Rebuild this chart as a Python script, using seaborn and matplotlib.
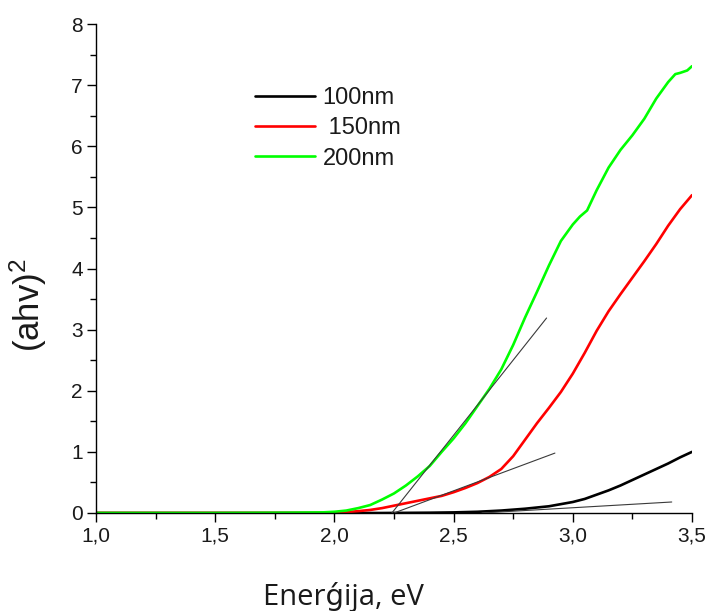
import numpy as np
import pandas as pd
import matplotlib
matplotlib.use("Agg")
import matplotlib.pyplot as plt
from matplotlib.ticker import MultipleLocator, FuncFormatter
import seaborn as sns

# ---- data ----
x_100 = [1.0, 2.2, 2.4, 2.5, 2.6, 2.7, 2.8, 2.9, 3.0, 3.05, 3.1, 3.15, 3.2, 3.25, 3.3, 3.35, 3.4, 3.45, 3.5]
y_100 = [0, 0, 0.005, 0.01, 0.02, 0.04, 0.07, 0.11, 0.18, 0.23, 0.30, 0.37, 0.45, 0.54, 0.63, 0.72, 0.81, 0.91, 1.0]

x_150 = [1.0, 1.9, 2.0, 2.05, 2.1, 2.15, 2.2, 2.25, 2.3, 2.35, 2.4, 2.45, 2.5, 2.55, 2.6, 2.65, 2.7,
         2.75, 2.8, 2.85, 2.9, 2.95, 3.0, 3.05, 3.1, 3.15, 3.2, 3.25, 3.3, 3.35, 3.4, 3.45, 3.5]
y_150 = [0, 0, 0.005, 0.015, 0.03, 0.05, 0.08, 0.12, 0.16, 0.20, 0.24, 0.28, 0.34, 0.41, 0.49, 0.59, 0.72,
         0.93, 1.20, 1.47, 1.72, 1.98, 2.28, 2.62, 2.98, 3.30, 3.58, 3.85, 4.12, 4.40, 4.70, 4.97, 5.20]

x_200 = [1.0, 1.5, 1.8, 1.95, 2.0, 2.05, 2.1, 2.15, 2.2, 2.25, 2.3, 2.35, 2.4, 2.45, 2.5, 2.55, 2.6, 2.65,
         2.7, 2.75, 2.8, 2.85, 2.9, 2.95, 3.0, 3.03, 3.06, 3.1, 3.15, 3.2, 3.25, 3.3, 3.35, 3.4, 3.43,
         3.45, 3.48, 3.5]
y_200 = [0, 0, 0.005, 0.01, 0.02, 0.04, 0.08, 0.13, 0.22, 0.32, 0.45, 0.60, 0.77, 1.00, 1.22, 1.47, 1.75, 2.03,
         2.35, 2.75, 3.20, 3.62, 4.05, 4.45, 4.72, 4.85, 4.95, 5.28, 5.65, 5.94, 6.18, 6.45, 6.78, 7.05, 7.18,
         7.20, 7.24, 7.31]

series_labels = ["100nm", " 150nm", "200nm"]
series_colors = ["#000000", "#ff0000", "#00ff00"]

# tangent (fit) lines: start and end points
tan_200_x = [2.235, 2.89]
tan_200_y = [-0.03, 3.19]
tan_150_x = [2.25, 2.925]
tan_150_y = [0.0, 0.98]
tan_100_x = [2.62, 3.415]
tan_100_y = [0.0, 0.18]

x_ticks = [1.0, 1.5, 2.0, 2.5, 3.0, 3.5]
y_ticks = [0, 1, 2, 3, 4, 5, 6, 7, 8]

df = pd.concat([
    pd.DataFrame({"E": x_100, "val": y_100, "s": series_labels[0]}),
    pd.DataFrame({"E": x_150, "val": y_150, "s": series_labels[1]}),
    pd.DataFrame({"E": x_200, "val": y_200, "s": series_labels[2]}),
], ignore_index=True)

sns.set_theme(style="ticks")
plt.rcParams["font.family"] = ["Liberation Sans", "DejaVu Sans"]
plt.rcParams["mathtext.fontset"] = "custom"
plt.rcParams["mathtext.rm"] = "Liberation Sans"
plt.rcParams["mathtext.it"] = "Liberation Sans"

fig = plt.figure(figsize=(7.15, 6.11), dpi=100)
ax = fig.add_axes([96 / 715, 1 - 513 / 611, 596 / 715, 489 / 611])

sns.lineplot(data=df, x="E", y="val", hue="s", palette=dict(zip(series_labels, series_colors)),
             hue_order=series_labels, linewidth=1.9, ax=ax, sort=False, estimator=None)

for tx, ty in [(tan_200_x, tan_200_y), (tan_150_x, tan_150_y), (tan_100_x, tan_100_y)]:
    sns.lineplot(x=tx, y=ty, color="#3a3a3a", linewidth=0.8, ax=ax, legend=False, zorder=5)

ax.set_xlim(1.0, 3.5)
ax.set_ylim(0, 8)
ax.set_xticks(x_ticks)
ax.set_yticks(y_ticks)
ax.xaxis.set_minor_locator(MultipleLocator(0.25))
ax.yaxis.set_minor_locator(MultipleLocator(0.5))
ax.xaxis.set_major_formatter(FuncFormatter(lambda v, p: f"{v:.1f}".replace(".", ",")))
ax.yaxis.set_major_formatter(FuncFormatter(lambda v, p: f"{v:.0f}"))
ax.tick_params(axis="both", which="major", direction="out", length=6.5, width=1, labelsize=15,
               colors="black", labelcolor="#1a1a1a", pad=3)
ax.tick_params(axis="both", which="minor", direction="out", length=4, width=1, colors="black")
sns.despine(ax=ax)
for sp in ["left", "bottom"]:
    ax.spines[sp].set_color("black")
    ax.spines[sp].set_linewidth(1)

ax.set_ylabel(r"(ahv)$^{\mathrm{2}}$", fontsize=25, color="#1a1a1a")
ax.yaxis.set_label_coords(-0.079, 0.425)
ax.set_xlabel("Enerǵija, eV", fontsize=21, color="#1a1a1a",
              fontfamily=["Open Sans", "DejaVu Sans"], va="baseline")
ax.xaxis.set_label_coords(0.415, -0.188)

leg = ax.legend(loc="upper left", bbox_to_anchor=(0.267, 0.871), frameon=False, fontsize=17,
                handlelength=2.55, handletextpad=0.3, labelspacing=0.35, borderpad=0, borderaxespad=0)
for line in leg.get_lines():
    line.set_linewidth(1.9)
for t in leg.get_texts():
    t.set_color("#1a1a1a")

fig.savefig("out.png", dpi=100, facecolor="white")
